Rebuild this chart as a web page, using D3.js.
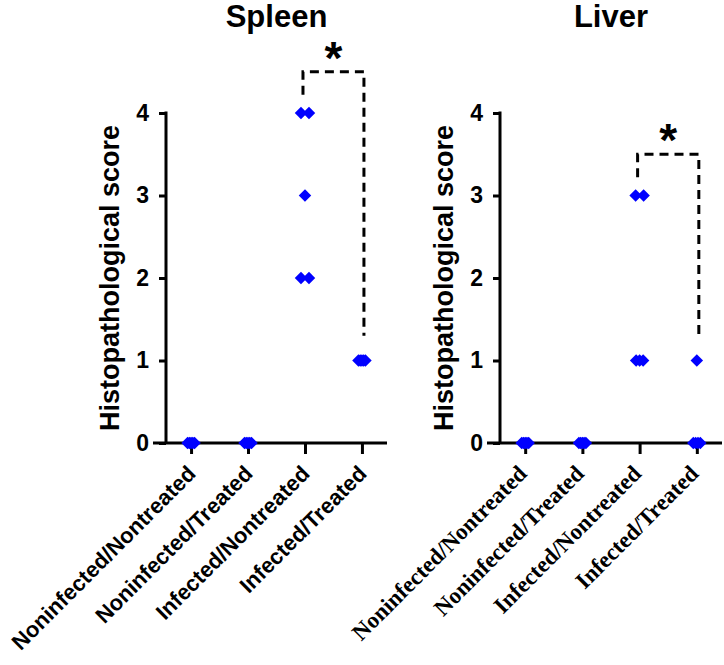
<!DOCTYPE html>
<html>
<head>
<meta charset="utf-8">
<script src="https://cdn.jsdelivr.net/npm/d3@7"></script>
<style>
  body { margin: 0; background: #fff; }
  svg { display: block; }
</style>
</head>
<body>
<div id="chart"></div>
<script>
  // groups on the x axis
  var groups = ["Noninfected/Nontreated", "Noninfected/Treated", "Infected/Nontreated", "Infected/Treated"];

  // scores per group
  var spleenScores = [[0, 0, 0, 0, 0], [0, 0, 0, 0, 0], [4, 4, 3, 2, 2], [1, 1, 1, 1, 1]];
  var liverScores = [[0, 0, 0, 0, 0], [0, 0, 0, 0, 0], [3, 3, 1, 1, 1], [1, 0, 0, 0, 0]];

  // y ticks
  var yTicks = [0, 1, 2, 3, 4];

  // significance bracket: which groups it joins
  var spleenPair = [2, 3];
  var liverPair = [2, 3];

  var svg = d3.select("#chart").append("svg")
    .attr("width", 724)
    .attr("height", 665);

  // y scale shared by both panels
  var y = d3.scaleLinear().domain([0, 4]).range([443, 113]);

  var panels = [
    {title: "Spleen", scores: spleenScores, pair: spleenPair, left: 166, right: 387, labelFont: "Liberation Sans, Arial, sans-serif", labelSize: 22, labelShift: 6},
    {title: "Liver", scores: liverScores, pair: liverPair, left: 500, right: 722, labelFont: "Liberation Serif, Times New Roman, serif", labelSize: 23, labelShift: 3}
  ];

  panels.forEach(drawPanel);

  function drawPanel(p) {

    var g = svg.append("g")
      .attr("transform", "translate(" + p.left + ",0)");

    var w = p.right - p.left;

    var x = d3.scalePoint()
      .domain(groups)
      .range([0, w])
      .padding(0.44);

    // title
    g.append("text")
      .attr("x", w / 2)
      .attr("y", 27)
      .attr("text-anchor", "middle")
      .style("font-family", "Liberation Sans, Arial, sans-serif")
      .style("font-weight", "bold")
      .style("font-size", "31px")
      .text(p.title);

    // y axis
    var yAxis = d3.axisLeft(y)
      .tickValues(yTicks)
      .tickFormat(d3.format("d"))
      .tickSize(7)
      .tickPadding(10)
      .tickSizeOuter(0);

    var ya = g.append("g").attr("class", "y axis").call(yAxis);
    ya.select(".domain").remove();
    ya.selectAll(".tick line").attr("stroke", "#000").attr("stroke-width", 3);
    ya.selectAll(".tick text")
      .style("font-family", "Liberation Sans, Arial, sans-serif")
      .style("font-weight", "bold")
      .style("font-size", "23px")
      .attr("fill", "#000");

    g.append("line")
      .attr("x1", 0).attr("x2", 0)
      .attr("y1", y(4) - 1.5).attr("y2", y(0))
      .attr("stroke", "#000").attr("stroke-width", 3);

    // x axis
    var xAxis = d3.axisBottom(x)
      .tickSize(11)
      .tickSizeOuter(0)
      .tickFormat("");

    var xa = g.append("g")
      .attr("class", "x axis")
      .attr("transform", "translate(0," + y(0) + ")")
      .call(xAxis);
    xa.select(".domain").remove();
    xa.selectAll(".tick line").attr("stroke", "#000").attr("stroke-width", 3);

    g.append("line")
      .attr("x1", -13).attr("x2", w)
      .attr("y1", y(0)).attr("y2", y(0))
      .attr("stroke", "#000").attr("stroke-width", 3);

    // rotated group labels
    g.selectAll(".xlabel")
      .data(groups)
    .enter().append("text")
      .attr("class", "xlabel")
      .attr("transform", function(d) { return "translate(" + (x(d) + p.labelShift) + "," + (y(0) + 32) + ") rotate(-45)"; })
      .attr("text-anchor", "end")
      .style("font-family", p.labelFont)
      .style("font-weight", "bold")
      .style("font-size", p.labelSize + "px")
      .text(function(d) { return d; });

    // y label
    g.append("text")
      .attr("transform", "translate(-47," + ((y(0) + y(4)) / 2) + ") rotate(-90)")
      .attr("text-anchor", "middle")
      .style("font-family", "Liberation Sans, Arial, sans-serif")
      .style("font-weight", "bold")
      .style("font-size", "27px")
      .text("Histopathological score");

    // spread equal values side by side
    var points = [];
    p.scores.forEach(function(vals, gi) {
      var counts = d3.rollup(vals, function(v) { return v.length; }, function(v) { return v; });
      var seen = new Map();
      vals.forEach(function(v) {
        var n = counts.get(v);
        var k = seen.get(v) || 0;
        seen.set(v, k + 1);
        var step = n <= 2 ? 8 : 7 / (n - 1);
        points.push({group: groups[gi], value: v, dx: (k - (n - 1) / 2) * step});
      });
    });

    var diamond = d3.symbol().type(d3.symbolSquare).size(78);

    g.selectAll(".dot")
      .data(points)
    .enter().append("path")
      .attr("class", "dot")
      .attr("d", diamond)
      .attr("transform", function(d) { return "translate(" + (x(d.group) + d.dx) + "," + y(d.value) + ") rotate(45)"; })
      .attr("fill", "#0000ff");

    // significance bracket
    var a = p.pair[0], b = p.pair[1];
    var aMax = d3.max(p.scores[a]), bMax = d3.max(p.scores[b]);
    var top = aMax + 0.5;
    var xa0 = x(groups[a]) - 2, xb0 = x(groups[b]) + 2;

    g.append("path")
      .attr("d", "M" + xa0 + "," + y(aMax + 0.22) + "V" + y(top) + "H" + xb0 + "V" + y(bMax + 0.3))
      .attr("fill", "none")
      .attr("stroke", "#000")
      .attr("stroke-width", 3)
      .attr("stroke-dasharray", "9,6");

    g.append("text")
      .attr("x", (xa0 + xb0) / 2)
      .attr("y", y(top) + 2)
      .attr("text-anchor", "middle")
      .style("font-family", "Liberation Sans, Arial, sans-serif")
      .style("font-weight", "bold")
      .style("font-size", "46px")
      .text("*");
  }
</script>
</body>
</html>
